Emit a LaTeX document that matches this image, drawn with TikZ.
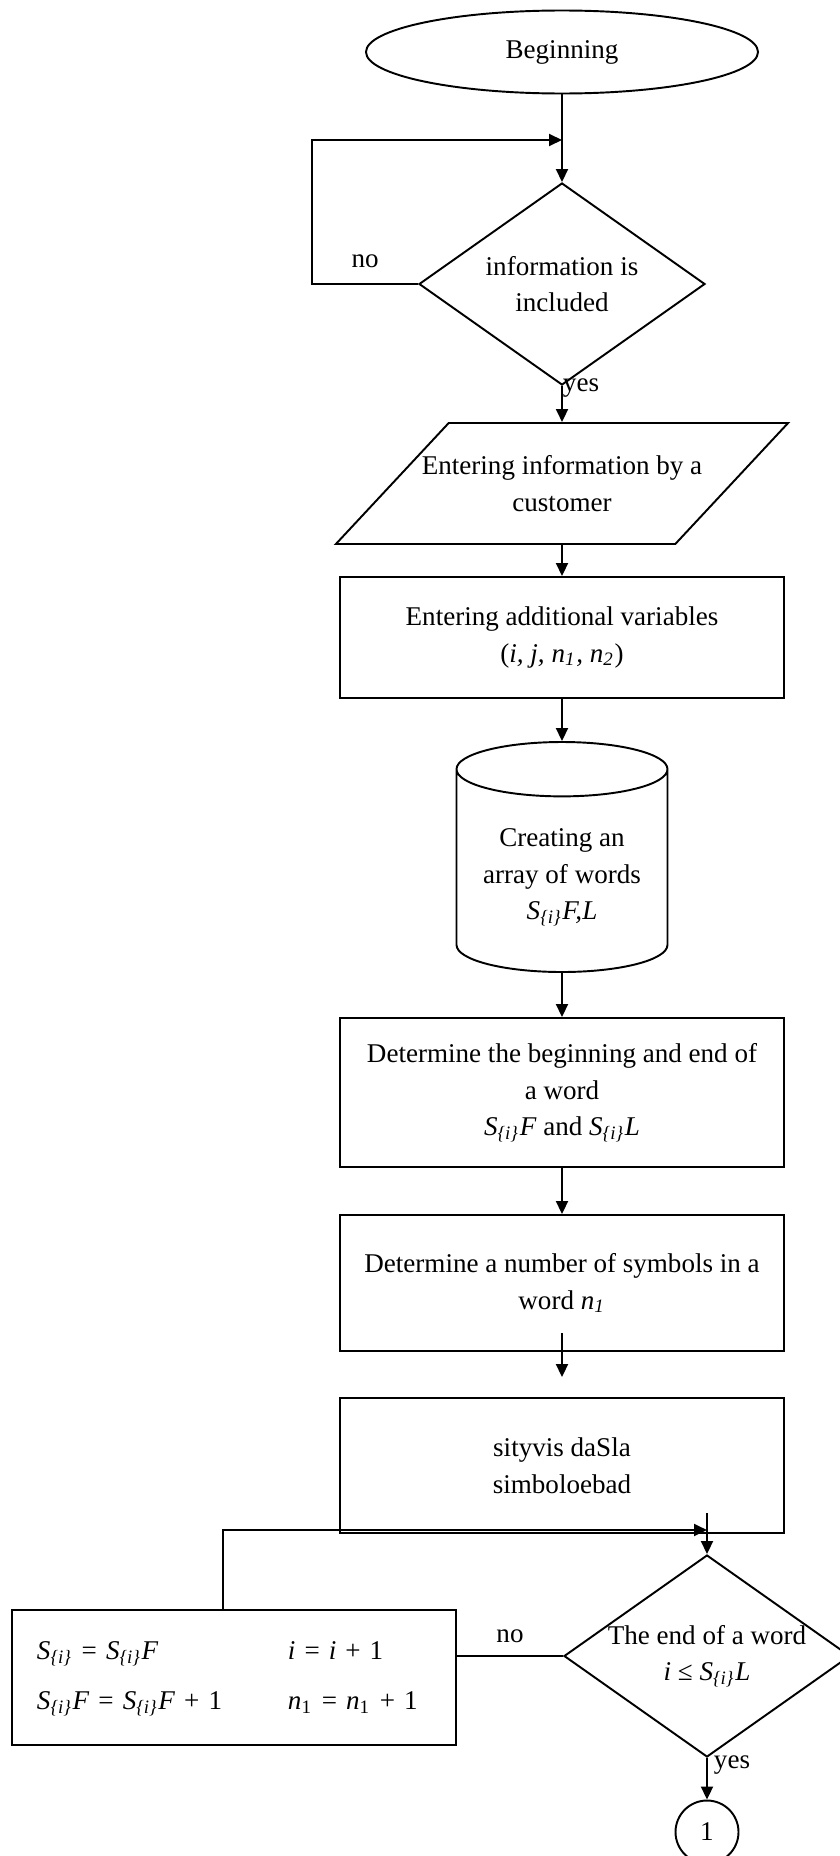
\documentclass[tikz,border=0pt]{standalone}
\usepackage{fontspec}
\setmainfont{Liberation Serif}
\usetikzlibrary{arrows.meta, positioning, shapes.geometric, calc}
\tikzset{
  every picture/.style={line width=0.55pt},
  every node/.style={font=\fontsize{7.7}{10.4}\selectfont},
  startstop/.style={draw, ellipse, minimum width=3.92cm, minimum height=0.83cm},
  decision/.style={draw, diamond, aspect=1.42, inner sep=0pt, inner xsep=-0.08cm, minimum width=2.86cm, minimum height=2.02cm, align=center},
  io/.style={draw, trapezium, trapezium left angle=47, trapezium right angle=133, inner ysep=0.29cm, inner xsep=-0.335cm, minimum height=1.21cm, align=center},
  process/.style={draw, rectangle, minimum width=4.44cm, minimum height=#1, align=center},
  process/.default=1.21cm,
  store/.style={draw, cylinder, shape border rotate=90, aspect=0.3, minimum width=2.11cm, minimum height=2.30cm, align=center, anchor=shape center},
  connector/.style={draw, circle, minimum size=0.63cm, inner sep=0pt},
  arrow/.style={-{Triangle[length=0.13cm, width=0.12cm]}},
  lbl/.style={inner sep=0pt},
}
\begin{document}
\begin{tikzpicture}
  \useasboundingbox (0,0) rectangle (8.39,-18.56);
  \newcommand{\Sw}{\textit{S}\textsubscript{\textit{\{i\}}}}
  % main column
  \node[startstop] (begin) at (5.62,-0.52) {Beginning};
  \node[decision] (cond1) at (5.62,-2.84) {information is\\included};
  \node[io] (data) at (5.62,-4.835) {Entering information by a\\customer};
  \node[process] (vars) at (5.62,-6.375) {Entering additional variables\\(\textit{i, j, n\textsubscript{1}, n\textsubscript{2}})};
  \node[store] (words) at (5.62,-8.57) {Creating an\\array of words\\\Sw\textit{F,L}};
  \node[process=1.49cm] (bounds) at (5.62,-10.925) {Determine the beginning and end of\\a word\\\Sw\textit{F} and \Sw\textit{L}};
  \node[process=1.36cm] (count) at (5.62,-12.83) {Determine a number of symbols in a\\word \textit{n\textsubscript{1}}};
  \node[process=1.35cm] (split) at (5.62,-14.655) {sityvis daSla\\simboloebad};
  % the word loop
  \node[decision] (cond2) at (7.07,-16.56) {The end of a word\\\textit{i} ≤ \Sw\textit{L}};
  \node[process=1.35cm, text width=3.94cm, align=left, inner xsep=0.25cm] (step) at (2.34,-16.775) {%
    \begin{tabular}{@{}p{2.51cm}@{}l@{}}
      \Sw{} = \Sw\textit{F} & \textit{i} = \textit{i} + 1\\[3.8pt]
      \Sw\textit{F} = \Sw\textit{F} + 1 & \textit{n}\textsubscript{1} = \textit{n}\textsubscript{1} + 1
    \end{tabular}};
  \node[connector] (next) at (7.07,-18.32) {1};
  % connectors
  \coordinate (j1) at (5.62,-1.40);
  \coordinate (j2) at (7.07,-15.13);
  \coordinate (j3) at (7.07,-15.30);
  \draw[arrow] (begin) -- (cond1);
  \draw[arrow] (cond1.west) -- ++(-1.06,0) node[lbl, pos=0.5, above=0.15cm] {no} |- (j1);
  \draw[arrow] (cond1) -- node[lbl, pos=0.05, anchor=west] {yes} (data);
  \draw[arrow] (data) -- (vars);
  \draw[arrow] (vars) -- (words);
  \draw[arrow] (words) -- (bounds);
  \draw[arrow] (bounds) -- (count);
  \draw[arrow, shorten <=-0.19cm, shorten >=0.2cm] (count) -- (split);
  \draw[arrow] (j2) -- (cond2.north);
  \draw[arrow] ([xshift=-0.11cm]step.north) |- (j3);
  \draw (cond2.west) -- node[lbl, above=0.12cm] {no} (cond2.west -| step.east);
  \draw[arrow] (cond2.south) -- node[lbl, pos=0.18, anchor=west, xshift=0.06cm] {yes} (next.north);
\end{tikzpicture}
\end{document}
